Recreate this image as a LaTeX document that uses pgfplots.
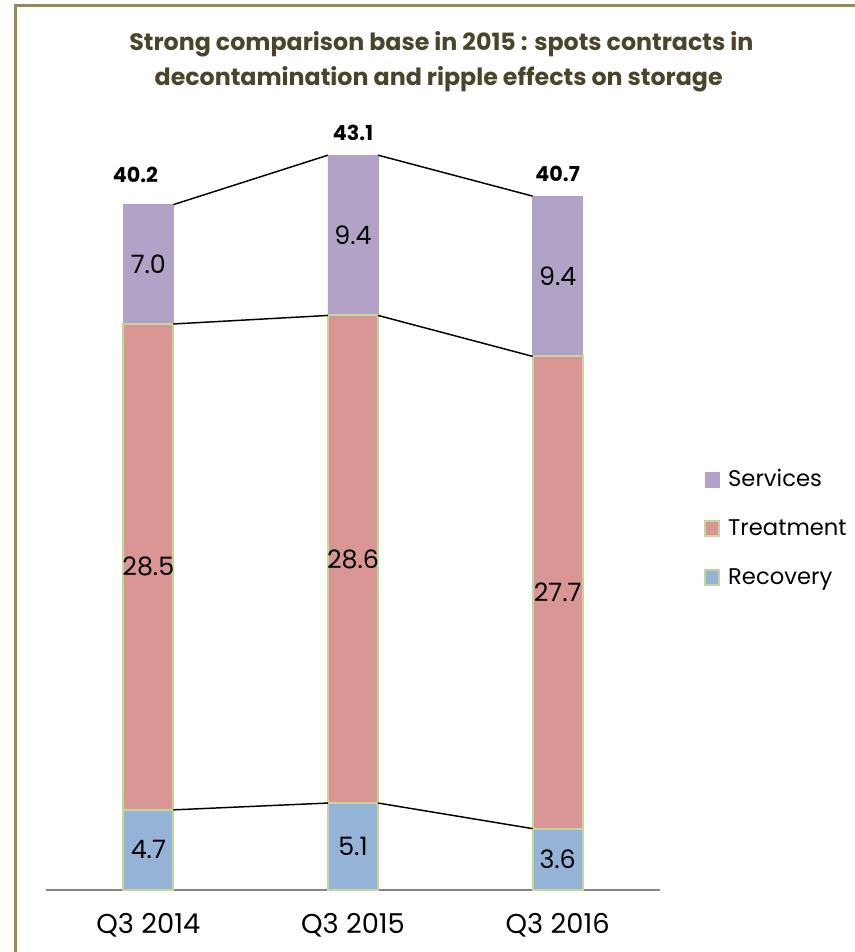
\documentclass[border=0pt]{standalone}
\usepackage{fontspec}
\setmainfont{Poppins}
\usepackage{pgfplots}
\pgfplotsset{compat=1.18}
\definecolor{serv}{HTML}{B3A2C7}
\definecolor{treat}{HTML}{D99694}
\definecolor{recov}{HTML}{95B3D7}
\definecolor{edgec}{HTML}{C3D69B}
\definecolor{framec}{HTML}{948A54}
\definecolor{titlec}{HTML}{4A452A}
\definecolor{axisc}{HTML}{868686}
\begin{document}
\begin{tikzpicture}
\useasboundingbox (0,0) rectangle (640.5pt,714pt);
\draw[framec, line width=2.6pt] (11.6pt,-5pt) -- (11.6pt,709.7pt) -- (650pt,709.7pt);
\node[titlec, font=\bfseries\fontsize{17.8}{20}\selectfont, anchor=base] at (331pt,675.75pt) {Strong comparison base in 2015 : spots contracts in};
\node[titlec, font=\bfseries\fontsize{17.8}{20}\selectfont, anchor=base] at (329pt,649.5pt) {decontamination and ripple effects on storage};
\begin{axis}[
  at={(34.5pt,46.5pt)}, anchor=south west,
  scale only axis, width=460.5pt, height=575.4pt,
  xmin=-0.5, xmax=2.5, ymin=0, ymax=45,
  ybar stacked, bar width=0.245,
  xtick={0,1,2}, xticklabels={Q3 2014,Q3 2015,Q3 2016},
  axis y line=none, axis x line*=bottom,
  x axis line style={draw=axisc, line width=1.5pt},
  major tick length=0pt,
  xticklabel style={font=\fontsize{20.5}{20}\selectfont, anchor=base, yshift=-32.25pt},
  clip=false,
  reverse legend,
  legend cell align=left,
  legend image code/.code={\draw[#1] (0pt,-4pt) rectangle (10.5pt,7pt);},
  legend style={draw=none, fill=none, at={(rel axis cs:1.065,0.550)}, anchor=north west,
    font=\fontsize{17}{17}\selectfont, row sep=20.7pt, column sep=6pt,
    nodes={inner sep=0pt, text height=12pt, text depth=4pt}},
]
\addplot[fill=recov, draw=edgec, line width=1.5pt] coordinates {(0,4.7)(1,5.1)(2,3.6)};
\addplot[fill=treat, draw=edgec, line width=1.5pt] coordinates {(0,28.5)(1,28.6)(2,27.7)};
\addplot[fill=serv, draw=serv, line width=0.5pt] coordinates {(0,7.0)(1,9.4)(2,9.4)};
\legend{Recovery,Treatment,Services}
\end{axis}
\begin{axis}[
  at={(34.5pt,46.5pt)}, anchor=south west,
  scale only axis, width=460.5pt, height=575.4pt,
  xmin=-0.5, xmax=2.5, ymin=0, ymax=45,
  hide axis, clip=false,
]
% connector lines between segment tops
\addplot[black, line width=1.1pt] coordinates {(0.1225,4.7)(0.8775,5.1)};
\addplot[black, line width=1.1pt] coordinates {(1.1225,5.1)(1.8775,3.6)};
\addplot[black, line width=1.1pt] coordinates {(0.1225,33.2)(0.8775,33.7)};
\addplot[black, line width=1.1pt] coordinates {(1.1225,33.7)(1.8775,31.3)};
\addplot[black, line width=1.1pt] coordinates {(0.1225,40.2)(0.8775,43.1)};
\addplot[black, line width=1.1pt] coordinates {(1.1225,43.1)(1.8775,40.7)};
% segment labels
\addplot[draw=none, mark=none, nodes near coords, point meta=explicit symbolic,
  every node near coord/.append style={anchor=center, font=\fontsize{19}{19}\selectfont, inner sep=0pt}]
  coordinates {(0,2.35)[4.7] (1,2.55)[5.1] (2,1.8)[3.6]
               (0,18.95)[28.5] (1,19.4)[28.6] (2,17.45)[27.7]
               (0,36.7)[7.0] (1,38.4)[9.4] (2,36.0)[9.4]};
% totals
\addplot[draw=none, mark=none, nodes near coords, point meta=explicit symbolic,
  every node near coord/.append style={anchor=base, font=\bfseries\fontsize{15.5}{16}\selectfont, inner sep=0pt, yshift=11.25pt}]
  coordinates {(1,43.1)[43.1] (2,40.7)[40.7]};
\addplot[draw=none, mark=none, nodes near coords, point meta=explicit symbolic,
  every node near coord/.append style={anchor=base, font=\bfseries\fontsize{15.5}{16}\selectfont, inner sep=0pt, yshift=16.5pt, xshift=-9.75pt}]
  coordinates {(0,40.2)[40.2]};
\end{axis}
\end{tikzpicture}
\end{document}
